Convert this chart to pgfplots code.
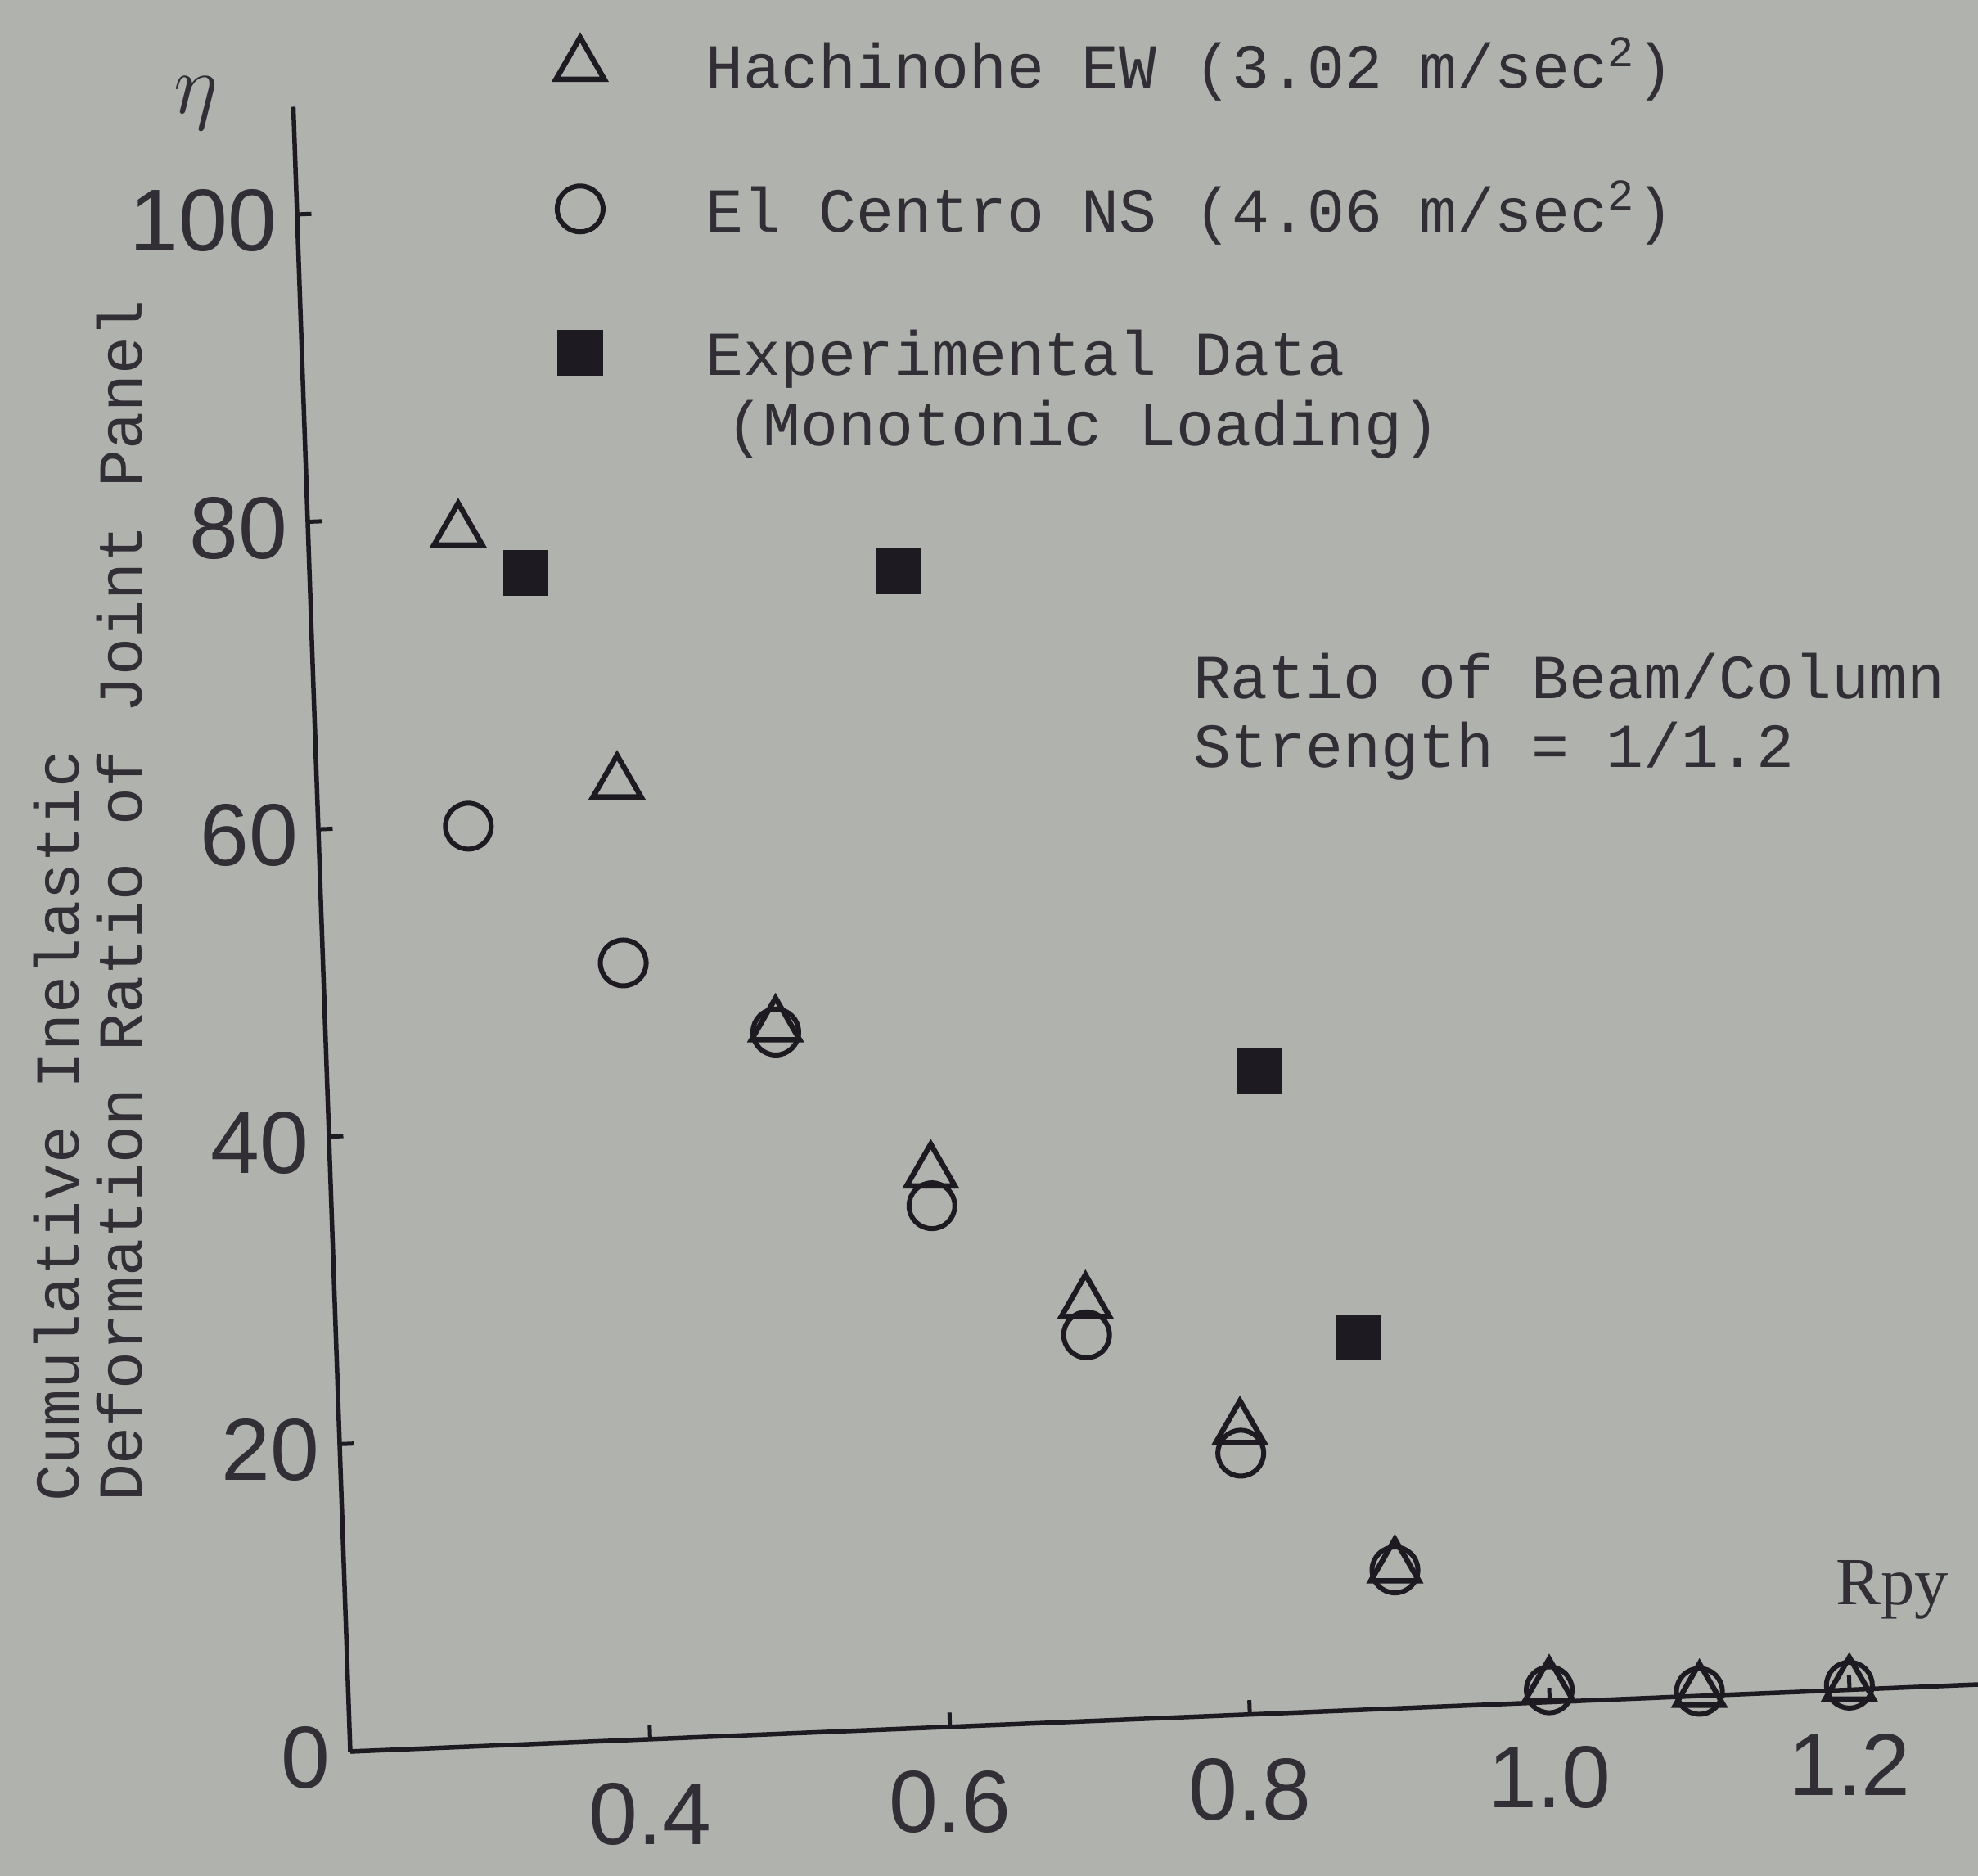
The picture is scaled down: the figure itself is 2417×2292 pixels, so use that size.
\documentclass[border=0pt]{standalone}
\usepackage{pgfplots}
\pgfplotsset{compat=1.18}
\usepackage{fontspec}
\setmainfont{Liberation Mono}
\newfontfamily\tickfont{Liberation Sans}
\newfontfamily\serifF{Liberation Serif}
\usetikzlibrary{backgrounds}
\definecolor{bg}{RGB}{175,178,173}
\definecolor{ink}{RGB}{30,26,34}
\definecolor{txt}{RGB}{50,46,54}
\begin{document}
\begin{tikzpicture}
\begin{axis}[
  x={(366.4pt,15.1pt)}, y={(-0.13pt,3.756pt)},
  xmin=0.2, xmax=1.29, ymin=0, ymax=107,
  axis lines=left,
  axis line style={-, line width=1.1pt, color=ink},
  x axis line style={-}, y axis line style={-},
  tick align=inside,
  major tick length=3.5pt,
  tick style={line width=1pt, color=ink},
  xtick={0.4,0.6,0.8,1.0,1.2},
  xticklabels={0.4,0.6,0.8,1.0,1.2},
  ytick={0,20,40,60,80,100},
  yticklabels={0,20,40,60,80,100},
  tick label style={font=\tickfont\fontsize{21.5}{23}\selectfont, text=txt, inner sep=0pt},
  xticklabel style={anchor=north, yshift=-10.5pt},
  yticklabel style={anchor=east, xshift=-4.8pt, yshift=-1.5pt},
  clip=false,
  legend cell align=left,
  legend style={at={(axis cs:0.3768,111.4)}, anchor=north west, draw=none, fill=none,
    inner sep=0pt, outer sep=0pt, row sep=17pt, column sep=22.9pt,
    font=\fontsize{15.3}{18}\selectfont, text=txt},
]
\addplot[only marks, color=ink, mark=triangle, mark size=6.8pt,
  mark options={line width=1.3pt, draw=ink, fill=none}] coordinates {
  (0.3,79.0) (0.4,62.2) (0.5,46.0) (0.6,36.1) (0.7,27.2)
  (0.8,18.6) (0.9,9.2) (1.0,1.0) (1.1,0.3) (1.2,0.3)
};
\addlegendentry{\strut Hachinohe EW (3.02 m/sec\textsuperscript{2})}
\addplot[only marks, color=ink, mark=o, mark size=5.6pt,
  mark options={line width=1.2pt, draw=ink, fill=none}] coordinates {
  (0.3,59.8) (0.4,50.5) (0.5,45.6) (0.6,33.9) (0.7,25.1)
  (0.8,17.0) (0.9,9.0) (1.0,0.8) (1.1,0.3) (1.2,0.3)
};
\addlegendentry{\strut El Centro NS (4.06 m/sec\textsuperscript{2})}
\addplot[only marks, color=ink, mark=square*, mark size=5.3pt,
  mark options={line width=0.5pt, draw=ink, fill=ink}] coordinates {
  (0.344,76.1) (0.592,75.2) (0.821,41.8) (0.881,24.2)
};
\addlegendentry{\strut Experimental Data}
\coordinate (O) at (axis cs:0.2,0);
\end{axis}
\begin{scope}[shift={(O)}, x=0.2pt, y=-0.2pt, shift={(-428,-2140)}]
  \begin{pgfonlayer}{background}
    \fill[bg] (0,0) rectangle (2417,2292);
  \end{pgfonlayer}
  \node[font=\fontsize{19.4}{20}\selectfont, text=txt, inner sep=0pt] at (239,126) {$\eta$};
  \node[font=\serifF\fontsize{16.5}{18}\selectfont, text=txt, inner sep=0pt] at (2312,1942) {Rpy};
  \node[rotate=90, anchor=base west, inner sep=0pt, font=\fontsize{15.3}{18}\selectfont, text=txt] at (97,1836) {Cumulative Inelastic};
  \node[rotate=90, anchor=base west, inner sep=0pt, font=\fontsize{15.3}{18}\selectfont, text=txt] at (174,1836) {Deformation Ratio of Joint Panel};
  \node[anchor=base west, inner sep=0pt, font=\fontsize{15.3}{18}\selectfont, text=txt] at (886,545) {(Monotonic Loading)};
  \node[anchor=base west, inner sep=0pt, font=\fontsize{15.3}{18}\selectfont, text=txt] at (1457,854) {Ratio of Beam/Column};
  \node[anchor=base west, inner sep=0pt, font=\fontsize{15.3}{18}\selectfont, text=txt] at (1457,938) {Strength = 1/1.2};
  \pgfresetboundingbox
  \path[use as bounding box] (0,0) rectangle (2417,2292);
\end{scope}
\end{tikzpicture}
\end{document}
